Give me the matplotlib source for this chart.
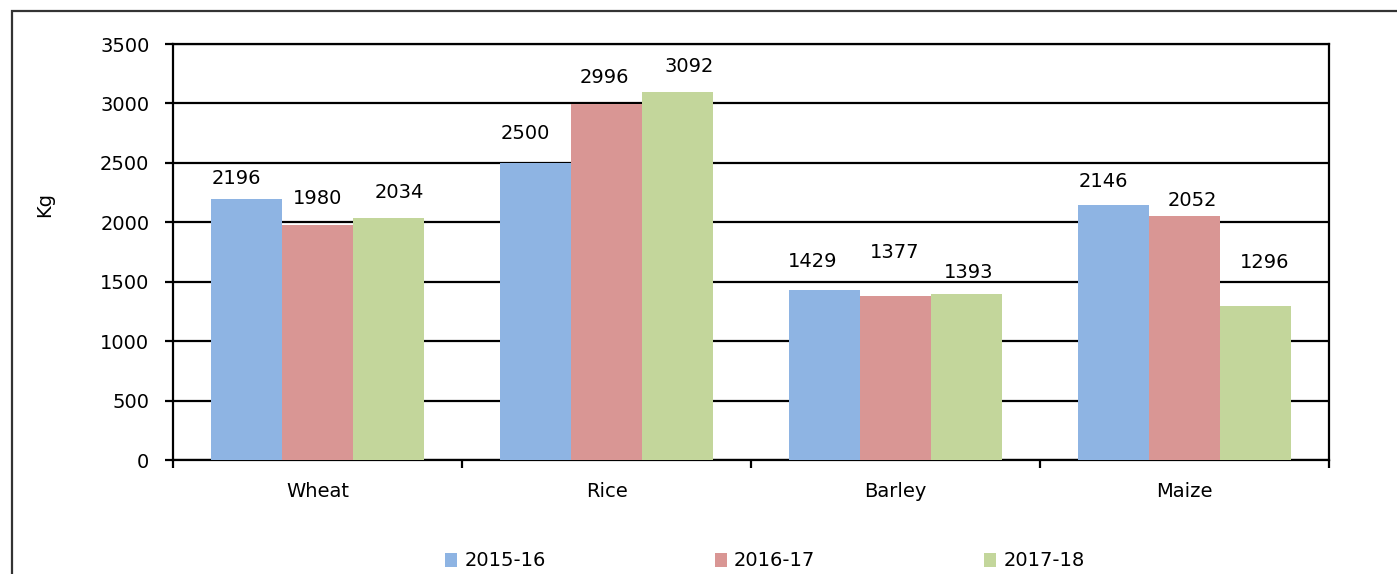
import numpy as np
import matplotlib.pyplot as plt
from matplotlib.patches import Rectangle

plt.rcParams['font.family'] = ['DejaVu Sans']

crops = ["Wheat", "Rice", "Barley", "Maize"]
years = ["2015-16", "2016-17", "2017-18"]
y2015 = [2196, 2500, 1429, 2146]
y2016 = [1980, 2996, 1377, 2052]
y2017 = [2034, 3092, 1393, 1296]
colors = ["#8EB4E3", "#D99694", "#C3D69B"]

# hand-placed data label offsets (pixels from bar top centre), per series
label_dx = [[-10, -10, -12, -10], [0, -2, -1, 8], [11, 12, 2, 9]]
label_dy = [[20, 29, 29, 23], [26, 26, 44, 16], [26, 26, 22, 43]]

fig = plt.figure(figsize=(13.97, 5.74), dpi=100)

# outer frame of the chart (cut off on the right and bottom)
fig.patches.append(Rectangle((12 / 1397, -0.1), 1.2, (574 - 11) / 574 + 0.1,
                             transform=fig.transFigure, fill=False,
                             edgecolor="#333333", linewidth=1.6))

ax = fig.add_axes([173 / 1397, (574 - 460) / 574, (1329 - 173) / 1397, (460 - 44) / 574])

x = np.arange(len(crops))
w = 0.245
for i, (vals, lab) in enumerate(zip([y2015, y2016, y2017], years)):
    bars = ax.bar(x + (i - 1) * w, vals, w, color=colors[i], label=lab, zorder=3)
    for j, (b, v) in enumerate(zip(bars, vals)):
        ax.annotate(str(v), (b.get_x() + b.get_width() / 2, v),
                    xytext=(label_dx[i][j], label_dy[i][j]),
                    textcoords="offset pixels", ha="center", va="center",
                    fontsize=14, zorder=4)

ax.set_xlim(-0.5, 3.5)
ax.set_ylim(0, 3500)
ax.set_yticks(range(0, 3501, 500))
ax.set_xticks(x)
ax.set_xticklabels(crops)
ax.set_xticks(np.arange(-0.5, 4, 1), minor=True)
ax.tick_params(axis="x", which="major", length=0, pad=16, labelsize=14)
ax.tick_params(axis="x", which="minor", length=6, width=1.6, direction="out")
ax.tick_params(axis="y", length=6, width=1.6, direction="out", labelsize=14, pad=11)
ax.grid(axis="y", color="black", linewidth=1.6, zorder=0)
for s in ax.spines.values():
    s.set_linewidth(1.6)
    s.set_color("black")
ax.set_ylabel("Kg", fontsize=14)
ax.yaxis.set_label_coords(-0.103, 0.615)

fig.legend(loc="center", bbox_to_anchor=(765 / 1397, 13 / 574), ncol=3,
           frameon=False, fontsize=14, handlelength=0.62, handleheight=0.7,
           columnspacing=8.7, handletextpad=0.36)

fig.savefig("out.png", dpi=100)
